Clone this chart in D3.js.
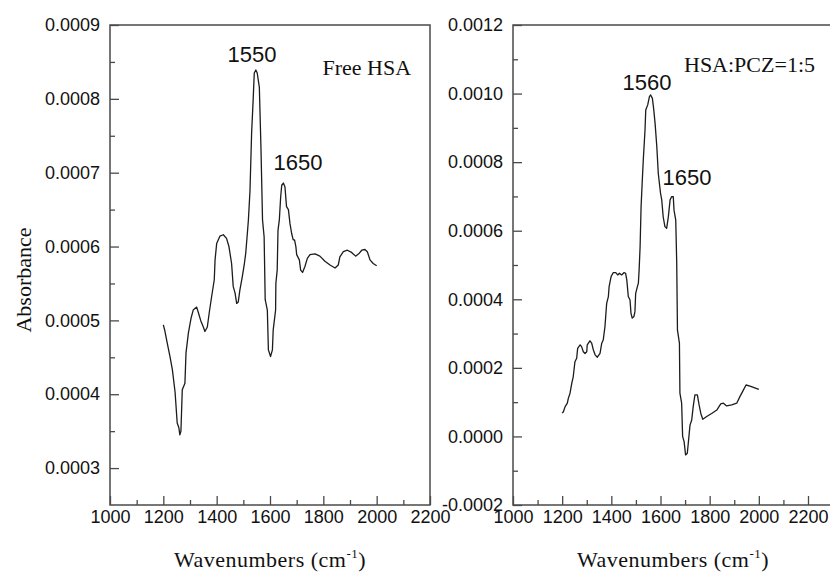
<!DOCTYPE html>
<html>
<head>
<meta charset="utf-8">
<script src="https://cdn.jsdelivr.net/npm/d3@7"></script>
<style>
  html, body { margin: 0; padding: 0; background: #fff; }
  svg { display: block; }
</style>
</head>
<body>
<svg id="chart"></svg>
<script>
// Free HSA spectrum (left panel)
const freeWavenumbers = [
  1200, 1205, 1216, 1225, 1234, 1244, 1252, 1258, 1262, 1266, 1271, 1281, 1285, 1294, 1304,
  1312, 1325, 1331, 1340, 1350, 1356, 1365, 1372, 1381, 1391, 1394, 1400, 1412, 1425, 1437,
  1446, 1456, 1462, 1469, 1475, 1481, 1487, 1496, 1504, 1509, 1516, 1519, 1525, 1531, 1537,
  1541, 1547, 1552, 1560, 1566, 1572, 1578, 1582, 1590, 1594, 1602, 1609, 1612, 1615, 1621,
  1622, 1627, 1630, 1635, 1640, 1644, 1650, 1656, 1662, 1669, 1675, 1681, 1687, 1692, 1697,
  1700, 1710, 1715, 1722, 1731, 1740, 1750, 1769, 1787, 1806, 1825, 1844, 1856, 1862, 1875,
  1890, 1906, 1921, 1935, 1944, 1956, 1965, 1975, 1987, 2000
];
const freeAbsorbance = [
  0.000494, 0.000487, 0.000467, 0.000451, 0.000433, 0.000403, 0.000361, 0.000355, 0.000345, 0.000350,
  0.000406, 0.000415, 0.000456, 0.000483, 0.000503, 0.000514, 0.000518, 0.000511, 0.000500, 0.000491,
  0.000485, 0.000491, 0.000510, 0.000532, 0.000555, 0.000582, 0.000604, 0.000614, 0.000616, 0.000611,
  0.000600, 0.000577, 0.000546, 0.000537, 0.000523, 0.000525, 0.000541, 0.000559, 0.000577, 0.000591,
  0.000622, 0.000636, 0.000676, 0.000753, 0.000800, 0.000835, 0.000839, 0.000835, 0.000816, 0.000735,
  0.000636, 0.000613, 0.000528, 0.000514, 0.000460, 0.000451, 0.000460, 0.000487, 0.000496, 0.000514,
  0.000550, 0.000568, 0.000622, 0.000636, 0.000667, 0.000683, 0.000686, 0.000681, 0.000654, 0.000650,
  0.000631, 0.000618, 0.000609, 0.000609, 0.000600, 0.000589, 0.000582, 0.000568, 0.000565, 0.000573,
  0.000584, 0.000589, 0.000590, 0.000587, 0.000580, 0.000575, 0.000571, 0.000575, 0.000586, 0.000593,
  0.000595, 0.000592, 0.000587, 0.000591, 0.000595, 0.000596, 0.000593, 0.000582, 0.000577, 0.000574
];

// HSA:PCZ = 1:5 spectrum (right panel)
const pczWavenumbers = [
  1200, 1205, 1212, 1221, 1225, 1232, 1239, 1245, 1252, 1259, 1263, 1273, 1279, 1286, 1293,
  1300, 1302, 1313, 1320, 1327, 1334, 1343, 1354, 1361, 1367, 1374, 1381, 1388, 1391, 1399,
  1408, 1418, 1426, 1433, 1442, 1452, 1458, 1463, 1469, 1476, 1480, 1485, 1492, 1496, 1499,
  1506, 1510, 1513, 1517, 1521, 1526, 1530, 1537, 1540, 1548, 1555, 1560, 1567, 1572, 1578,
  1585, 1591, 1600, 1605, 1611, 1618, 1625, 1632, 1639, 1645, 1652, 1655, 1662, 1666, 1669,
  1677, 1679, 1686, 1690, 1696, 1702, 1709, 1713, 1720, 1727, 1733, 1740, 1750, 1757, 1764,
  1772, 1788, 1808, 1829, 1845, 1856, 1869, 1890, 1910, 1923, 1937, 1948, 1964, 1978, 2000
];
const pczAbsorbance = [
  0.000068, 0.000072, 0.000087, 0.000097, 0.000111, 0.000126, 0.000155, 0.000174, 0.000218, 0.000228,
  0.000257, 0.000267, 0.000262, 0.000247, 0.000242, 0.000247, 0.000267, 0.000279, 0.000272, 0.000252,
  0.000238, 0.000231, 0.000242, 0.000272, 0.000281, 0.000320, 0.000388, 0.000408, 0.000437, 0.000466,
  0.000478, 0.000478, 0.000471, 0.000476, 0.000471, 0.000478, 0.000476, 0.000456, 0.000408, 0.000398,
  0.000359, 0.000345, 0.000350, 0.000364, 0.000417, 0.000437, 0.000447, 0.000485, 0.000553, 0.000670,
  0.000748, 0.000806, 0.000894, 0.000952, 0.000967, 0.000991, 0.000996, 0.000986, 0.000957, 0.000913,
  0.000845, 0.000767, 0.000710, 0.000690, 0.000640, 0.000612, 0.000607, 0.000641, 0.000690, 0.000699,
  0.000699, 0.000660, 0.000631, 0.000505, 0.000310, 0.000272, 0.000126, 0.000097, 0.000000, -0.000015,
  -0.000054, -0.000049, -0.000020, 0.000033, 0.000048, 0.000087, 0.000121, 0.000121, 0.000092, 0.000067,
  0.000050, 0.000058, 0.000067, 0.000077, 0.000095, 0.000097, 0.000089, 0.000092, 0.000097, 0.000116,
  0.000135, 0.000150, 0.000147, 0.000143, 0.000137
];

// ticks
const xMajorTicks = [1000, 1200, 1400, 1600, 1800, 2000, 2200];
const xMinorTicks = [1100, 1300, 1500, 1700, 1900, 2100];
const freeYTicks = [0.0003, 0.0004, 0.0005, 0.0006, 0.0007, 0.0008, 0.0009];
const freeYMinor = [0.00035, 0.00045, 0.00055, 0.00065, 0.00075, 0.00085];
const pczYTicks = [-0.0002, 0, 0.0002, 0.0004, 0.0006, 0.0008, 0.0010, 0.0012];
const pczYMinor = [-0.0001, 0.0001, 0.0003, 0.0005, 0.0007, 0.0009, 0.0011];

// peak labels
const freePeaks = [
  { text: "1550", x: 227.5, y: 62 },
  { text: "1650", x: 273.5, y: 170 }
];
const pczPeaks = [
  { text: "1560", x: 622.5, y: 90 },
  { text: "1650", x: 662.5, y: 185 }
];

const width = 830, height = 572;
const sansFont = "'Liberation Sans', Arial, sans-serif";
const serifFont = "'Liberation Serif', 'Times New Roman', serif";
const axisColor = "#4a4a4a";

const svg = d3.select("#chart").attr("width", width).attr("height", height);

function drawPanel(cfg) {
  const { left, top, w, h, xRange, yDomain, yTicks, yMinor, wn, ab, peaks, title } = cfg;
  const bottom = top + h;

  const x = d3.scaleLinear().domain([1000, 2200]).range(xRange);
  const y = d3.scaleLinear().domain(yDomain).range([bottom, top]);

  const g = svg.append("g");

  // 框
  g.append("rect")
    .attr("x", left)
    .attr("y", top)
    .attr("width", w)
    .attr("height", h)
    .attr("fill", "none")
    .attr("stroke", axisColor)
    .attr("stroke-width", 1.5);

  // x 轴（刻度朝内）
  const xAxisG = g.append("g").attr("transform", `translate(0,${bottom})`);
  xAxisG.call(
    d3.axisBottom(x).tickValues(xMajorTicks).tickSize(-9).tickSizeOuter(0).tickPadding(5)
      .tickFormat((d) => String(d))
  );
  const xMinorG = g.append("g").attr("transform", `translate(0,${bottom})`);
  xMinorG.call(
    d3.axisBottom(x).tickValues(xMinorTicks).tickSize(-5).tickSizeOuter(0).tickFormat("")
  );

  // y 轴
  const yAxisG = g.append("g").attr("transform", `translate(${left},0)`);
  yAxisG.call(
    d3.axisLeft(y).tickValues(yTicks).tickSize(-9).tickSizeOuter(0).tickPadding(10)
      .tickFormat((d) => d.toFixed(4))
  );
  const yMinorG = g.append("g").attr("transform", `translate(${left},0)`);
  yMinorG.call(
    d3.axisLeft(y).tickValues(yMinor).tickSize(-5).tickSizeOuter(0).tickFormat("")
  );

  [xAxisG, xMinorG, yAxisG, yMinorG].forEach((a) => {
    a.select(".domain").remove();
    a.selectAll(".tick line").attr("stroke", axisColor).attr("stroke-width", 1.3);
    a.selectAll(".tick text")
      .attr("fill", "#111")
      .attr("font-family", sansFont)
      .attr("font-size", 18);
  });

  // 曲线
  const pts = wn.map((d, i) => [d, ab[i]]);
  const line = d3.line().x((d) => x(d[0])).y((d) => y(d[1]));
  g.append("path")
    .datum(pts)
    .attr("d", line)
    .attr("fill", "none")
    .attr("stroke", "#1c1c1c")
    .attr("stroke-width", 1.3)
    .attr("stroke-linejoin", "round");

  // 峰标注
  g.selectAll("text.peak")
    .data(peaks)
    .enter()
    .append("text")
    .attr("class", "peak")
    .attr("x", (d) => d.x)
    .attr("y", (d) => d.y)
    .attr("font-family", sansFont)
    .attr("font-size", 22)
    .attr("fill", "#111")
    .text((d) => d.text);

  // 样品名
  g.append("text")
    .attr("x", title.x)
    .attr("y", title.y)
    .attr("font-family", serifFont)
    .attr("font-size", 22)
    .attr("fill", "#111")
    .text(title.text);

  // x 轴标题
  const xl = g.append("text")
    .attr("x", left + w / 2)
    .attr("y", 567)
    .attr("text-anchor", "middle")
    .attr("font-family", serifFont)
    .attr("font-size", 22)
    .attr("letter-spacing", 0.5)
    .attr("fill", "#111");
  xl.append("tspan").text("Wavenumbers (cm");
  xl.append("tspan").attr("font-size", 13).attr("dy", -9).text("-1");
  xl.append("tspan").attr("dy", 9).text(")");
}

drawPanel({
  left: 110, top: 25, w: 320, h: 480,
  xRange: [110, 430],
  yDomain: [0.00025, 0.0009],
  yTicks: freeYTicks, yMinor: freeYMinor,
  wn: freeWavenumbers, ab: freeAbsorbance,
  peaks: freePeaks,
  title: { text: "Free HSA", x: 322.5, y: 75 }
});

drawPanel({
  left: 513, top: 25, w: 320, h: 480,
  xRange: [513, 808],
  yDomain: [-0.0002, 0.0012],
  yTicks: pczYTicks, yMinor: pczYMinor,
  wn: pczWavenumbers, ab: pczAbsorbance,
  peaks: pczPeaks,
  title: { text: "HSA:PCZ=1:5", x: 684, y: 72 }
});

// y 轴标题
svg.append("text")
  .attr("transform", "translate(31,280) rotate(-90)")
  .attr("text-anchor", "middle")
  .attr("font-family", serifFont)
  .attr("font-size", 22)
  .attr("fill", "#111")
  .text("Absorbance");
</script>
</body>
</html>
